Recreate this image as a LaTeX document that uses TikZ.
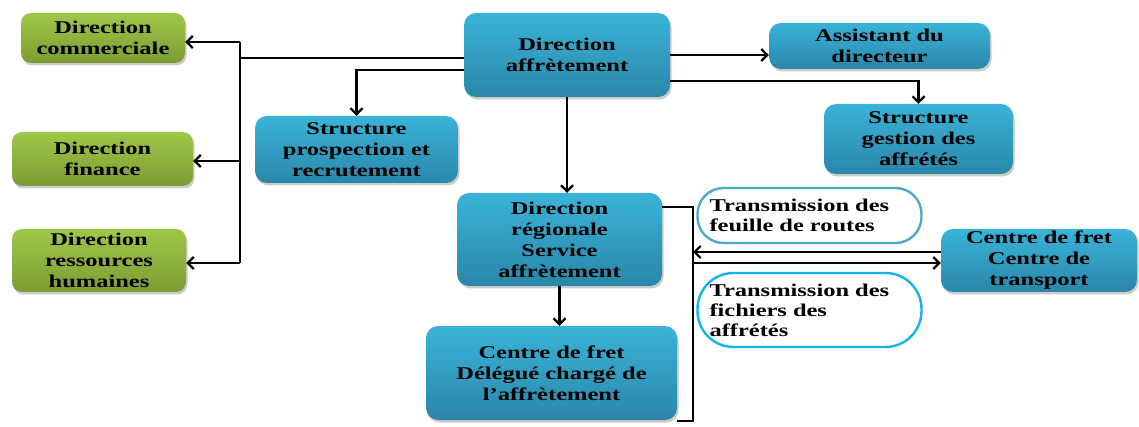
\documentclass[tikz,border=0pt]{standalone}
\usepackage{fontspec}
\setmainfont{Liberation Serif}[FakeStretch=1.36]
\usetikzlibrary{arrows.meta,shadows}
\definecolor{boxtop}{HTML}{3AB3D9}
\definecolor{boxbot}{HTML}{2A87A8}
\definecolor{greentop}{HTML}{9FC747}
\definecolor{greenbot}{HTML}{7D9C33}
\definecolor{bulleA}{HTML}{4FA9C6}
\definecolor{bulleB}{HTML}{16B2EC}
\begin{document}
\begin{tikzpicture}[x=1pt,y=-1pt,
    box/.style={rectangle,rounded corners=12pt,align=center,inner sep=2pt,
      font=\fontsize{18}{21}\selectfont\bfseries,
      drop shadow={shadow xshift=1.5pt,shadow yshift=-2.5pt,opacity=0.4}},
    bleu/.style={box,top color=boxtop,bottom color=boxbot},
    vert/.style={box,rounded corners=10pt,top color=greentop,bottom color=greenbot},
    bulle/.style={rectangle,line width=2.4pt,fill=white,align=left,text width=200pt,
      inner xsep=12pt,inner ysep=2pt,font=\fontsize{18}{20}\selectfont\bfseries},
    lien/.style={line width=2.2pt},
    fl/.style={lien,-{Straight Barb[length=6pt,width=12pt]}}]
      \useasboundingbox (0,0) rectangle (1139,427);
      \node[vert,minimum width=164pt,minimum height=50pt] (com) at (103,38) {Direction\\commerciale};
      \node[vert,minimum width=181pt,minimum height=54pt] (fin) at (102.5,159) {Direction\\finance};
      \node[vert,minimum width=174pt,minimum height=63pt] (rh) at (99,260.5) {Direction\\ressources\\humaines};
      \node[bleu,minimum width=206pt,minimum height=84pt] (daff) at (567,55) {Direction\\affrètement};
      \node[bleu,minimum width=221pt,minimum height=46pt] (asst) at (879.5,46) {Assistant du\\directeur};
      \node[bleu,minimum width=189pt,minimum height=70pt] (sgest) at (918.5,139) {Structure\\gestion des\\affrétés};
      \node[bleu,minimum width=203pt,minimum height=67pt] (sprosp) at (356.5,149.5) {Structure\\prospection et\\recrutement};
      \node[bleu,minimum width=205pt,minimum height=93pt] (dreg) at (559.5,239.5) {Direction\\régionale\\Service\\affrètement};
      \node[bleu,minimum width=251pt,minimum height=94pt] (cdel) at (551.5,373) {Centre de fret\\Délégué chargé de\\l’affrètement};
      \node[bleu,minimum width=196pt,minimum height=63pt] (ctrans) at (1039,260.5) {Centre de fret\\Centre de\\transport};
      \node[bulle,draw=bulleA,rounded corners=26pt,minimum height=55pt] (tfr) at (809.5,215.5) {Transmission des\\feuille de routes};
      \node[bulle,draw=bulleB,rounded corners=36pt,minimum height=74pt] (tfa) at (809.5,310) {Transmission des\\fichiers des\\affrétés};
      \coordinate (bus) at (240,58);
      \coordinate (c1) at (240,42);
      \coordinate (c2) at (240,161);
      \coordinate (c3) at (240,263);
      \coordinate (r1) at (693,207);
      \coordinate (r2) at (693,421);
      \coordinate (t1) at (693,252);
      \coordinate (t2) at (693,263);
      \draw[lien] ([yshift=-3pt]daff.west) -- (bus);
      \draw[lien] (c1) -- (c3);
      \draw[fl] (c1) -- (c1 -| com.east);
      \draw[fl] (c2) -- (c2 -| fin.east);
      \draw[fl] (c3) -- (c3 -| rh.east);
      \draw[fl] ([yshift=-15pt]daff.west) -| (sprosp.north);
      \draw[fl] (daff.east) -- (daff.east -| asst.west);
      \draw[fl] ([yshift=-26pt]daff.east) -| (sgest.north);
      \draw[fl] (daff.south) -- (daff.south |- dreg.north);
      \draw[fl] (dreg.south) -- (dreg.south |- cdel.north);
      \draw[lien] (r1 -| dreg.east) -- (r1) -- (r2) -- (r2 -| cdel.east);
      \draw[fl] (t1 -| ctrans.west) -- (t1);
      \draw[fl] (t2) -- (t2 -| ctrans.west);
    \end{tikzpicture}
\end{document}
